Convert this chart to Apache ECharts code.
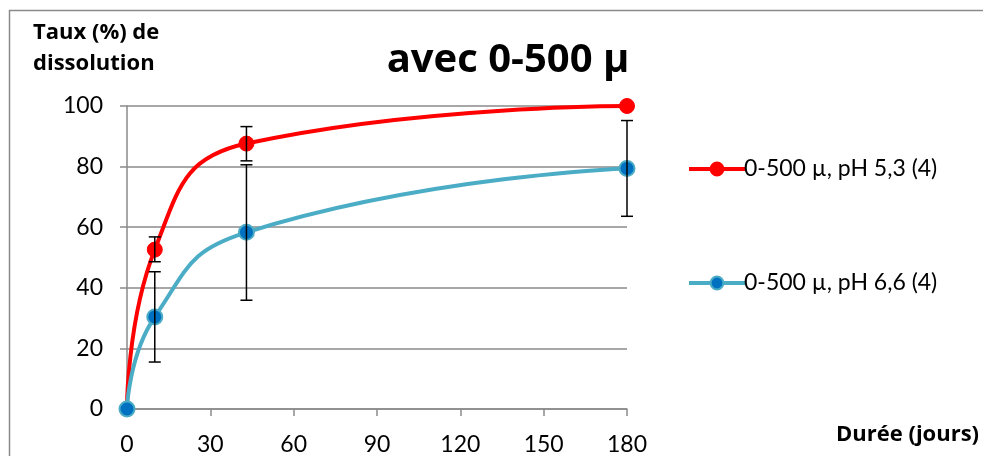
<!DOCTYPE html>
<html>
<head>
<meta charset="utf-8">
<script src="https://cdn.jsdelivr.net/npm/echarts@6/dist/echarts.min.js"></script>
<style>
  body { margin: 0; padding: 0; background: #fff; }
  #chart { width: 983px; height: 456px; }
</style>
</head>
<body>
<div id="chart"></div>
<script>
// durée (jours)
const days = [0, 10, 43, 180]
// pH 5,3
const phA = [0, 52.6, 87.6, 100]
const phALow = [null, 48.6, 81.9, null]
const phAHigh = [null, 56.8, 93.2, null]
// pH 6,6
const phB = [0, 30.4, 58.3, 79.4]
const phBLow = [null, 15.5, 35.9, 63.6]
const phBHigh = [null, 45.3, 80.6, 95.2]

const nameA = '0-500 µ, pH 5,3 (4)'
const nameB = '0-500 µ, pH 6,6 (4)'

const font = 'Lato, "Open Sans", sans-serif'
const boldFont = '"Open Sans", Lato, sans-serif'

const pairs = (xs, ys) => xs.map((x, i) => [x, ys[i]])
const errData = (lo, hi) => days
  .map((x, i) => [x, lo[i], hi[i]])
  .filter(d => d[1] != null)

const errSeries = (data) => ({
  type: 'custom',
  z: 5,
  silent: true,
  encode: { x: 0, y: [1, 2] },
  data: data,
  renderItem: (params, api) => {
    const top = api.coord([api.value(0), api.value(2)])
    const bot = api.coord([api.value(0), api.value(1)])
    const w = 6
    const style = { stroke: '#000', lineWidth: 1.5 }
    return {
      type: 'group',
      children: [
        { type: 'line', shape: { x1: top[0], y1: top[1], x2: bot[0], y2: bot[1] }, style },
        { type: 'line', shape: { x1: top[0] - w, y1: top[1], x2: top[0] + w, y2: top[1] }, style },
        { type: 'line', shape: { x1: bot[0] - w, y1: bot[1], x2: bot[0] + w, y2: bot[1] }, style }
      ]
    }
  }
})

const chart = echarts.init(document.getElementById('chart'))
chart.setOption({
  backgroundColor: '#fff',
  animation: false,
  textStyle: { fontFamily: font },
  title: {
    text: 'avec 0-500 µ',
    left: 503,
    top: 36,
    textAlign: 'center',
    textStyle: { fontSize: 40, fontWeight: 'bold', color: '#000', fontFamily: boldFont }
  },
  graphic: [
    {
      type: 'rect',
      shape: { x: 9.5, y: 10.5, width: 1000, height: 500 },
      style: { fill: 'none', stroke: '#8a8a8a', lineWidth: 1.5 },
      silent: true
    },
    {
      type: 'text',
      left: 33,
      top: 17,
      style: {
        text: 'Taux (%) de\ndissolution',
        font: 'bold 22px ' + boldFont,
        fill: '#000',
        lineHeight: 31
      }
    },
    {
      type: 'text',
      left: 836,
      top: 424,
      style: { text: 'Durée (jours)', font: 'bold 22px ' + boldFont, fill: '#000' }
    }
  ],
  legend: {
    data: [nameA, nameB],
    orient: 'vertical',
    left: 687,
    top: 157,
    padding: 0,
    itemGap: 90,
    itemWidth: 56,
    itemHeight: 16,
    lineStyle: { width: 4 },
    textStyle: { fontSize: 23, lineHeight: 24, color: '#000', fontFamily: font, padding: [0, 0, 0, -6] }
  },
  grid: { left: 127, right: 356, top: 106, bottom: 46, containLabel: false },
  xAxis: {
    type: 'value',
    min: 0,
    max: 180,
    interval: 30,
    axisLine: { lineStyle: { color: '#8a8a8a', width: 1.5 } },
    axisTick: { show: true, inside: false, length: 7, lineStyle: { color: '#8a8a8a', width: 1.5 } },
    axisLabel: { fontSize: 23, color: '#000', margin: 24, fontFamily: font },
    splitLine: { show: false }
  },
  yAxis: {
    type: 'value',
    min: 0,
    max: 100,
    interval: 20,
    axisLine: { show: true, lineStyle: { color: '#8a8a8a', width: 1.5 } },
    axisTick: { show: true, length: 7, lineStyle: { color: '#8a8a8a', width: 1.5 } },
    axisLabel: { fontSize: 23, color: '#000', margin: 24, fontFamily: font },
    splitLine: { show: true, lineStyle: { color: '#8a8a8a', width: 1.5 } }
  },
  series: [
    {
      name: nameA,
      type: 'line',
      data: pairs(days, phA),
      smooth: 0.5,
      symbol: 'circle',
      symbolSize: 15,
      z: 3,
      lineStyle: { color: '#ff0000', width: 4 },
      itemStyle: { color: '#ff0000', borderColor: '#ff0000', borderWidth: 1 }
    },
    {
      name: nameB,
      type: 'line',
      data: pairs(days, phB),
      smooth: 0.5,
      symbol: 'circle',
      symbolSize: 15,
      z: 3,
      lineStyle: { color: '#4bacc6', width: 4 },
      itemStyle: { color: '#0070c0', borderColor: '#4bacc6', borderWidth: 2 }
    },
    errSeries(errData(phALow, phAHigh)),
    errSeries(errData(phBLow, phBHigh))
  ]
})
</script>
</body>
</html>
